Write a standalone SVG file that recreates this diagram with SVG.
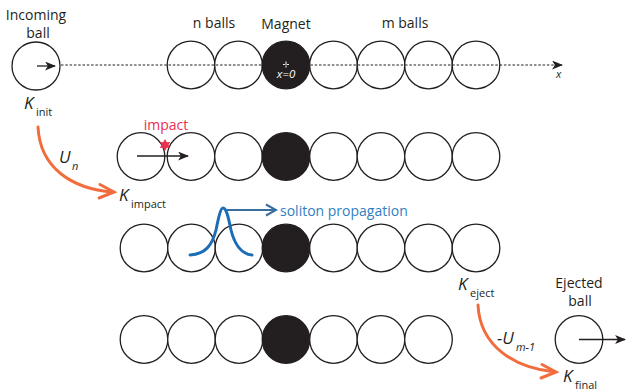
<svg xmlns="http://www.w3.org/2000/svg" width="626" height="391" viewBox="0 0 626 391">
<defs>
<style>
.b{fill:#fff;stroke:#231f20;stroke-width:1.3}
.m{fill:#231f20;stroke:#231f20;stroke-width:1.3}
.t{font-family:"Open Sans","Liberation Sans",sans-serif;font-size:14px;fill:#231f20}
.k{font-family:"Open Sans","Liberation Sans",sans-serif;font-size:17px;font-style:italic;fill:#231f20}
.s{font-family:"Open Sans","Liberation Sans",sans-serif;font-size:11px;fill:#231f20}
.si{font-family:"Open Sans","Liberation Sans",sans-serif;font-size:11px;font-style:italic;fill:#231f20}
.or{fill:none;stroke:#f26d3d;stroke-width:3;stroke-linecap:round}
.ar{stroke:#231f20;stroke-width:1.3;fill:none}
</style>
<marker id="ah" viewBox="0 0 10 8" refX="9" refY="4" markerWidth="11" markerHeight="9" markerUnits="userSpaceOnUse" orient="auto">
<path d="M0,0 L10,4 L0,8 L2.5,4 Z" fill="#231f20"/>
</marker>
</defs>

<g id="incoming">
<text class="t" x="36" y="20" text-anchor="middle">Incoming</text>
<text class="t" x="38" y="38" text-anchor="middle">ball</text>
<circle class="b" cx="36" cy="66" r="24"/>
<line class="ar" x1="37" y1="66" x2="55" y2="66" marker-end="url(#ah)"/>
<text class="k" x="24" y="109">K</text><text class="s" x="36" y="116">init</text>
</g>

<g id="row1">
<text class="t" x="214" y="28" text-anchor="middle">n balls</text>
<text class="t" x="286" y="29" text-anchor="middle">Magnet</text>
<text class="t" x="405" y="28" text-anchor="middle">m balls</text>
<circle class="b" cx="191" cy="65" r="23.8"/>
<circle class="b" cx="238.5" cy="65" r="23.8"/>
<circle class="m" cx="286" cy="65" r="23.8"/>
<circle class="b" cx="333.5" cy="65" r="23.8"/>
<circle class="b" cx="381" cy="65" r="23.8"/>
<circle class="b" cx="428.5" cy="65" r="23.8"/>
<circle class="b" cx="476" cy="65" r="23.8"/>
<path d="M283,64.5 H289 M286,61.5 V67.5" stroke="#fff" stroke-width="1"/>
<text x="286" y="78" text-anchor="middle" font-family="'Open Sans','Liberation Sans',sans-serif" font-size="11.5" font-style="italic" fill="#fff">x=0</text>
<text class="si" x="556" y="78">x</text>
</g>

<g id="row2">
<text x="166" y="130" text-anchor="middle" font-family="'Open Sans','Liberation Sans',sans-serif" font-size="14" fill="#e8304f">impact</text>
<circle class="b" cx="141" cy="156.5" r="23.8"/>
<circle class="b" cx="191" cy="156.5" r="23.8"/>
<circle class="b" cx="238.5" cy="156.5" r="23.8"/>
<circle class="m" cx="286" cy="156.5" r="23.8"/>
<circle class="b" cx="333.5" cy="156.5" r="23.8"/>
<circle class="b" cx="381" cy="156.5" r="23.8"/>
<circle class="b" cx="428.5" cy="156.5" r="23.8"/>
<circle class="b" cx="476" cy="156.5" r="23.8"/>
<line class="ar" x1="137" y1="156" x2="188" y2="156" marker-end="url(#ah)"/>
<path d="M165,139 L166.8,142.2 L170.2,142 L168.5,145 L170.2,148 L166.8,147.8 L165,151 L163.2,147.8 L159.8,148 L161.5,145 L159.8,142 L163.2,142.2 Z" fill="#e8304f"/>
</g>

<g id="row3">
<circle class="b" cx="144" cy="248" r="23.8"/>
<circle class="b" cx="191.5" cy="248" r="23.8"/>
<circle class="b" cx="239" cy="248" r="23.8"/>
<circle class="m" cx="286" cy="248" r="23.8"/>
<circle class="b" cx="333.5" cy="248" r="23.8"/>
<circle class="b" cx="381" cy="248" r="23.8"/>
<circle class="b" cx="428.5" cy="248" r="23.8"/>
<circle class="b" cx="476" cy="248" r="23.8"/>
<path d="M190,255 C205,254 212,246 216,230 C219,215 221,208 223,208 C226,208 228,215 231,230 C235,246 242,254 252,255" fill="none" stroke="#1b6eb5" stroke-width="3" stroke-linecap="round"/>
<path d="M227,210 H276 M266,204.5 L276,210 L266,215.5" fill="none" stroke="#3a6e9f" stroke-width="2"/>
<text x="280" y="216" font-family="'Open Sans','Liberation Sans',sans-serif" font-size="14" fill="#2f7fc3">soliton propagation</text>
</g>

<g id="row4">
<circle class="b" cx="144" cy="339.5" r="23.8"/>
<circle class="b" cx="191.5" cy="339.5" r="23.8"/>
<circle class="b" cx="239" cy="339.5" r="23.8"/>
<circle class="m" cx="286" cy="339.5" r="23.8"/>
<circle class="b" cx="333.5" cy="339.5" r="23.8"/>
<circle class="b" cx="381" cy="339.5" r="23.8"/>
<circle class="b" cx="428.5" cy="339.5" r="23.8"/>
</g>

<g id="ejected">
<text class="t" x="579" y="288" text-anchor="middle">Ejected</text>
<text class="t" x="580" y="306" text-anchor="middle">ball</text>
<circle class="b" cx="579" cy="339.5" r="23.8"/>
<line class="ar" x1="579" y1="339.5" x2="625" y2="339.5" marker-end="url(#ah)"/>
<text class="k" x="563" y="382">K</text><text class="s" x="575" y="389">final</text>
</g>

<g id="labels">
<text class="k" x="119" y="201">K</text><text class="s" x="131" y="208">impact</text>
<text class="k" x="458" y="290">K</text><text class="s" x="470" y="297">eject</text>
<text class="k" x="59" y="163">U</text><text class="si" x="72" y="170">n</text>
<text class="k" x="497" y="344">-U</text><text class="si" x="516" y="351">m-1</text>
</g>

<g id="connectors">
<line x1="61" y1="65" x2="562" y2="65" stroke="#231f20" stroke-width="1.2" stroke-dasharray="2.5 1.8" marker-end="url(#ah)"/>
<path class="or" d="M38,127 C40,168 72,189 113,192"/>
<path class="or" d="M100,184.5 L114,192 L99,198"/>
<path class="or" d="M478,305 C480,346 514,368 555,372"/>
<path class="or" d="M542,364.5 L556,372 L541,378"/>
</g>
</svg>
